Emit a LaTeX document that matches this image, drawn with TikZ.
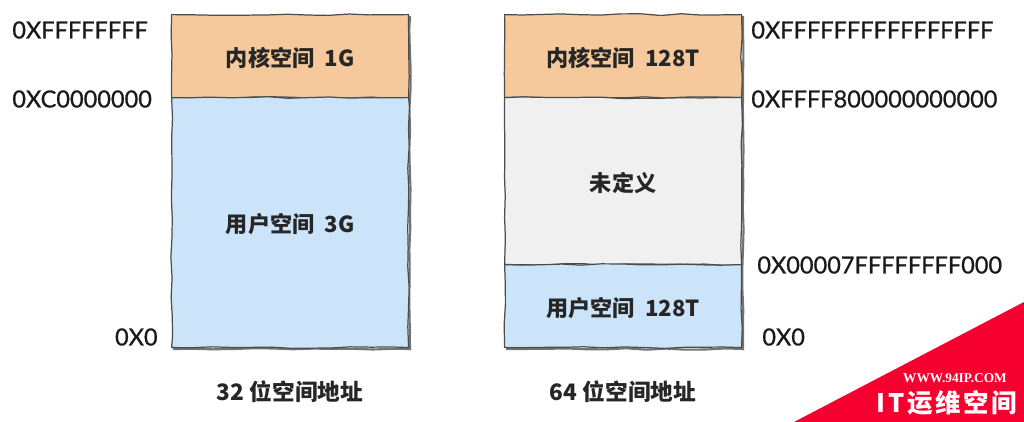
\documentclass[tikz,border=0pt]{standalone}
\usepackage{fontspec}
\usepackage{xcolor}
\setmainfont[FakeBold=0.8]{Lato}
\newfontfamily\cjk{Noto Sans CJK SC}
\newfontfamily\markfont{Liberation Serif}
\usetikzlibrary{decorations.pathmorphing}
\definecolor{kernelc}{HTML}{F5C99B}
\definecolor{userc}{HTML}{CCE4F9}
\definecolor{undefc}{HTML}{F0F0F0}
\definecolor{markc}{HTML}{F5002F}
\tikzset{
    region/.style={draw=black!70, line width=0.7pt, inner sep=0pt, minimum width=4.74cm, anchor=north west,
        font=\cjk\bfseries\fontsize{12.6}{15}\selectfont, text=black!85, text height=11.5pt, text depth=0pt,
        decorate, decoration={random steps, segment length=4mm, amplitude=0.5pt}},
    edgeline/.style={black!55, line width=1.2pt, decorate, decoration={random steps, segment length=4mm, amplitude=0.4pt}},
    addr/.style={inner sep=0pt, font=\fontsize{13.4}{16}\selectfont, text=black!90},
    caption/.style={font=\cjk\bfseries\fontsize{12.9}{15}\selectfont, text=black!85},
}
\pgfmathsetseed{7}
\begin{document}
\begin{tikzpicture}[x=0.02cm,y=-0.02cm]
    \useasboundingbox (0,0) rectangle (1024,422);

    % Shadows under the two columns
    \draw[edgeline] (173,349) -- (410,349) -- (410,16);
    \draw[edgeline] (506,349) -- (743,349) -- (743,16);

    % 32 bit column
    \node[region, fill=kernelc, minimum height=1.66cm] (kernel32) at (171,14) {内核空间\ \ 1G};
    \node[region, fill=userc, minimum height=5.00cm] (user32) at (171,97) {用户空间\ \ 3G};

    % 64 bit column
    \node[region, fill=kernelc, minimum height=1.66cm] (kernel64) at (504,14) {内核空间\ \ 128T};
    \node[region, fill=undefc, minimum height=3.34cm] (undef64) at (504,97) {未定义};
    \node[region, fill=userc, minimum height=1.66cm] (user64) at (504,264) {用户空间\ \ 128T};

    % Addresses
    \node[addr, anchor=west] (a32top) at (12,30) {0XFFFFFFFF};
    \node[addr, anchor=west] (a32mid) at (12,99) {0XC0000000};
    \node[addr, anchor=east] (a32low) at (158,337) {0X0};
    \node[addr, anchor=west] (a64top) at (751,30) {0XFFFFFFFFFFFFFFFF};
    \node[addr, anchor=west] (a64mid) at (751,99) {0XFFFF800000000000};
    \node[addr, anchor=west] (a64usr) at (757,265) {0X00007FFFFFFFF000};
    \node[addr, anchor=west] (a64low) at (762,337) {0X0};

    % Captions
    \node[caption] (cap32) at (290,392) {32 位空间地址};
    \node[caption] (cap64) at (623,392) {64 位空间地址};

    % Corner mark
    \fill[markc] (794,422) -- (1024,302) -- (1024,422) -- cycle;
    \node[text=white, font=\markfont\bfseries\fontsize{7.6}{9}\selectfont] (site) at (955,378) {WWW.94IP.COM};
    \node[text=white, font=\cjk\bfseries\fontsize{14.5}{17}\selectfont] (brand) at (947,403) {I\hspace{1.5pt}T\hspace{1.5pt}运\hspace{1.5pt}维\hspace{1.5pt}空\hspace{1.5pt}间};
\end{tikzpicture}
\end{document}
